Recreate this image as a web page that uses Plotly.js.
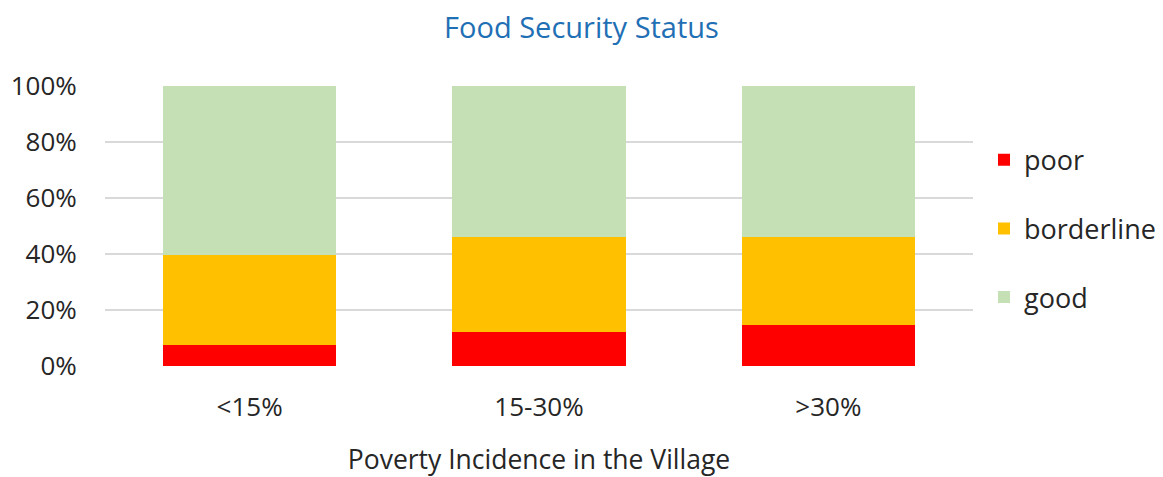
<!DOCTYPE html>
<html>
<head>
<meta charset="utf-8">
<script src="https://cdn.plot.ly/plotly-3.0.1.min.js"></script>
<style>html,body{margin:0;padding:0;background:#fff;}#chart{width:1163px;height:477px;}</style>
</head>
<body>
<div id="chart"></div>
<script>
const categories = ["<15%", "15-30%", ">30%"];
const poor = [7.4, 12.3, 14.6];
const borderline = [32.1, 33.6, 31.4];
const good = [60.5, 54.1, 54.0];
const yTickVals = [0, 20, 40, 60, 80, 100];
const yTickText = ["0%", "20%", "40%", "60%", "80%", "100%"];

const FONT = "Open Sans, Noto Sans, sans-serif";
const mk = (name, y, color) => ({
  type: "bar", name: name, x: categories, y: y,
  marker: {color: color, line: {width: 0}},
  legendgroup: name, hoverinfo: "skip"
});
const data = [
  mk("poor", poor, "#ff0000"),
  mk("borderline", borderline, "#ffc000"),
  mk("good", good, "#c5e0b4")
];
const layout = {
  width: 1163, height: 477,
  margin: {l: 105, r: 190, t: 86, b: 111, pad: 0, autoexpand: false},
  paper_bgcolor: "#fff", plot_bgcolor: "#fff",
  barmode: "stack", bargap: 0.4,
  font: {family: FONT, color: "#262626", size: 26},
  title: {text: "Food Security Status", font: {family: FONT, size: 29, color: "#1f6fb5"}, x: 0.5, xanchor: "center", y: 0.942, yanchor: "middle"},
  xaxis: {
    showgrid: false, zeroline: false, showline: false,
    ticks: "outside", ticklen: 18, tickcolor: "rgba(0,0,0,0)",
    tickfont: {family: FONT, size: 26, color: "#262626"},
    title: {text: "Poverty Incidence in the Village", font: {family: FONT, size: 26.5, color: "#262626"}, standoff: 34}
  },
  yaxis: {
    range: [0, 100], tickvals: yTickVals, ticktext: yTickText,
    showgrid: true, gridcolor: "#d9d9d9", gridwidth: 1.5, zeroline: false, showline: false,
    ticks: "outside", ticklen: 22, tickcolor: "rgba(0,0,0,0)",
    tickfont: {family: FONT, size: 26, color: "#262626"}
  },
  legend: {
    xref: "container", x: 984 / 1163, xanchor: "left", y: 0.49, yanchor: "middle",
    traceorder: "grouped", tracegroupgap: 30.5,
    font: {family: FONT, size: 27, color: "#262626"},
    itemwidth: 30
  },
  showlegend: true
};
Plotly.newPlot("chart", data, layout, {displayModeBar: false, staticPlot: true});
</script>
</body>
</html>
